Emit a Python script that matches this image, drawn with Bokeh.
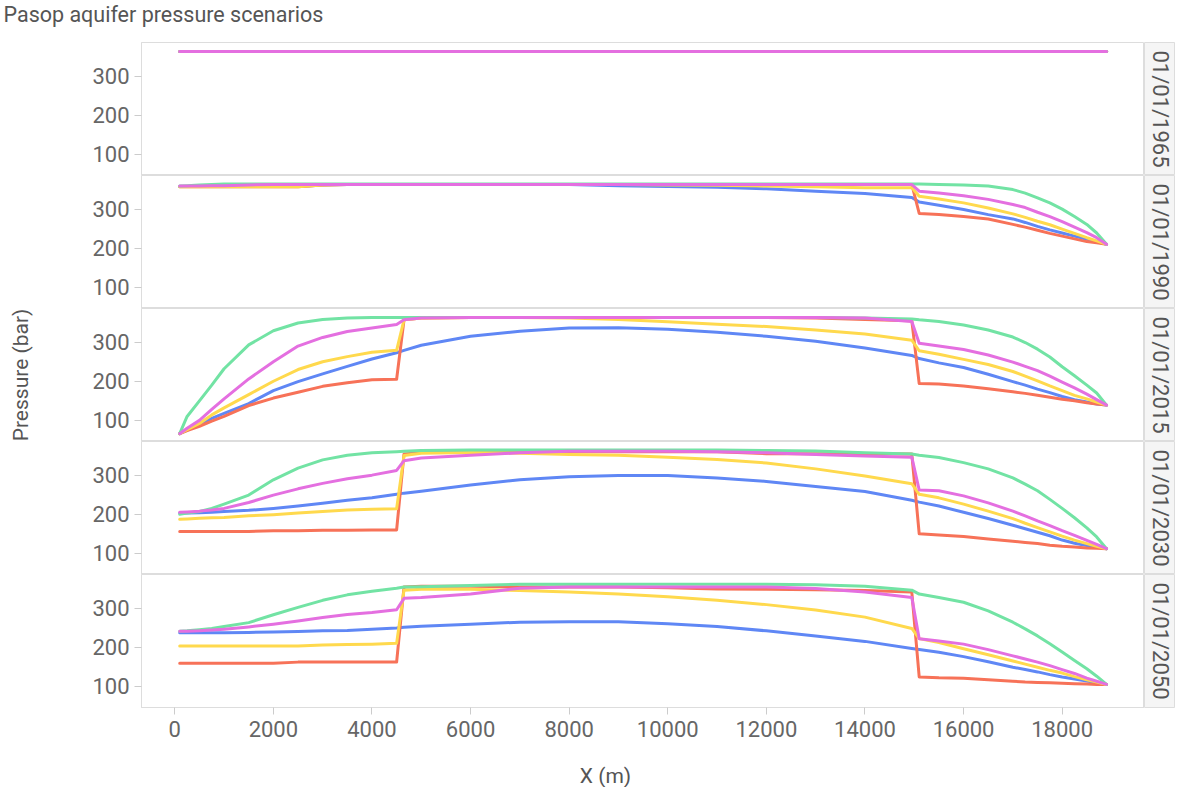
import math

from bokeh.embed import file_html
from bokeh.layouts import column, row
from bokeh.models import FixedTicker, Label, Range1d
from bokeh.plotting import figure
from bokeh.resources import INLINE

# ---------------------------------------------------------------------------
# Data: pressure (bar) along the aquifer section X (m) for five scenarios,
# shown at five dates.
# ---------------------------------------------------------------------------
X_M = [100, 250, 500, 750, 1000,
       1500, 2000, 2500, 3000, 3500, 4000, 4500,
       4650, 5000, 6000, 7000, 8000, 9000, 10000, 11000, 12000, 13000, 14000,
       14950, 15100, 15500, 16000, 16500, 17000,
       17250, 17500, 17750, 18000, 18250, 18500, 18700, 18900]

DATES = ["01/01/1965", "01/01/1990", "01/01/2015", "01/01/2030", "01/01/2050"]

X_TICKS = [0, 2000, 4000, 6000, 8000, 10000, 12000, 14000, 16000, 18000]
Y_TICKS = [100, 200, 300]

P1965 = {
    "blue":    [363, 363, 363, 363, 363, 363, 363, 363, 363, 363, 363, 363, 363,
                363, 363, 363, 363, 363, 363, 363, 363, 363, 363, 363, 363, 363,
                363, 363, 363, 363, 363, 363, 363, 363, 363, 363, 363],
    "red":     [363, 363, 363, 363, 363, 363, 363, 363, 363, 363, 363, 363, 363,
                363, 363, 363, 363, 363, 363, 363, 363, 363, 363, 363, 363, 363,
                363, 363, 363, 363, 363, 363, 363, 363, 363, 363, 363],
    "yellow":  [363, 363, 363, 363, 363, 363, 363, 363, 363, 363, 363, 363, 363,
                363, 363, 363, 363, 363, 363, 363, 363, 363, 363, 363, 363, 363,
                363, 363, 363, 363, 363, 363, 363, 363, 363, 363, 363],
    "green":   [363, 363, 363, 363, 363, 363, 363, 363, 363, 363, 363, 363, 363,
                363, 363, 363, 363, 363, 363, 363, 363, 363, 363, 363, 363, 363,
                363, 363, 363, 363, 363, 363, 363, 363, 363, 363, 363],
    "magenta": [363, 363, 363, 363, 363, 363, 363, 363, 363, 363, 363, 363, 363,
                363, 363, 363, 363, 363, 363, 363, 363, 363, 363, 363, 363, 363,
                363, 363, 363, 363, 363, 363, 363, 363, 363, 363, 363],
}

P1990 = {
    "blue":    [358, 358, 358, 358, 358,
                358, 358, 358, 362, 363, 363, 363,
                363, 363, 363, 363, 363, 360, 358, 356, 352, 346, 340,
                330, 318, 310, 299, 286, 275,
                266, 256, 247, 239, 231, 223, 217, 210],
    "red":     [357, 357, 357, 357, 357,
                357, 357, 357, 362, 363, 363, 363,
                363, 363, 363, 363, 363, 363, 363, 363, 363, 363, 363,
                363, 289, 286, 281, 275, 261,
                254, 246, 238, 231, 224, 217, 214, 210],
    "yellow":  [357, 357, 357, 357, 357,
                357, 357, 357, 362, 363, 363, 363,
                363, 363, 363, 363, 363, 363, 362, 361, 359, 357, 355,
                355, 333, 326, 316, 303, 288,
                279, 269, 260, 249, 238, 227, 219, 210],
    "green":   [359, 360, 362, 363, 364,
                364, 364, 364, 364, 364, 364, 364,
                364, 364, 364, 364, 364, 364, 364, 364, 364, 364, 364,
                364, 364, 363, 362, 359, 350,
                341, 329, 316, 300, 281, 261, 239, 210],
    "magenta": [359, 359, 359, 360, 360,
                362, 363, 363, 363, 363, 363, 363,
                363, 363, 363, 363, 363, 363, 363, 363, 363, 363, 363,
                363, 346, 341, 334, 325, 312,
                304, 292, 281, 268, 254, 240, 227, 210],
}

P2015 = {
    "blue":    [66, 75, 88, 105, 118,
                143, 176, 199, 219, 238, 257, 273,
                279, 292, 315, 328, 336, 337, 333, 325, 315, 302, 285,
                266, 258, 247, 235, 218, 199,
                190, 180, 171, 161, 153, 147, 142, 139],
    "red":     [66, 74, 85, 98, 110,
                138, 157, 172, 187, 196, 204, 205,
                357, 362, 363, 363, 363, 363, 363, 363, 363, 362, 358,
                355, 194, 193, 188, 181, 173,
                169, 164, 159, 154, 150, 145, 142, 139],
    "yellow":  [66, 76, 92, 114, 132,
                166, 200, 230, 250, 263, 274, 279,
                357, 362, 363, 363, 362, 358, 352, 346, 340, 331, 321,
                305, 278, 269, 256, 243, 225,
                213, 201, 188, 176, 164, 155, 147, 139],
    "green":   [66, 110, 150, 190, 232,
                293, 329, 349, 358, 362, 363, 363,
                363, 363, 363, 363, 363, 363, 363, 363, 363, 363, 362,
                359, 357, 353, 344, 331, 313,
                299, 282, 262, 237, 214, 190, 170, 139],
    "magenta": [66, 80, 100, 128, 155,
                206, 250, 290, 312, 327, 336, 345,
                357, 362, 363, 363, 363, 363, 363, 363, 363, 363, 362,
                353, 297, 290, 281, 267, 249,
                238, 227, 213, 198, 183, 167, 153, 139],
}

P2030 = {
    "blue":    [203, 203, 204, 205, 207,
                210, 215, 221, 228, 236, 242, 251,
                254, 259, 275, 288, 296, 299, 299, 293, 284, 271, 258,
                236, 231, 221, 205, 189, 172,
                163, 154, 145, 134, 126, 120, 116, 112],
    "red":     [156, 156, 156, 156, 156,
                156, 158, 158, 159, 159, 160, 160,
                354, 358, 360, 360, 360, 360, 360, 360, 355, 355, 355,
                354, 150, 147, 143, 137, 131,
                128, 125, 121, 118, 116, 114, 113, 112],
    "yellow":  [187, 188, 190, 191, 192,
                196, 199, 203, 207, 211, 213, 214,
                350, 356, 358, 356, 353, 351, 346, 340, 331, 316, 298,
                278, 251, 242, 226, 208, 189,
                177, 166, 155, 144, 134, 125, 118, 112],
    "green":   [200, 203, 207, 215, 226,
                249, 288, 318, 339, 351, 357, 360,
                361, 363, 364, 364, 364, 364, 364, 364, 363, 362, 357,
                354, 351, 345, 332, 316, 293,
                277, 260, 238, 215, 191, 165, 142, 112],
    "magenta": [205, 206, 208, 211, 215,
                230, 249, 265, 279, 291, 300, 312,
                337, 344, 351, 357, 361, 361, 361, 360, 357, 353, 349,
                346, 262, 260, 247, 229, 208,
                196, 183, 171, 158, 146, 133, 123, 112],
}

P2050 = {
    "blue":    [237, 237, 237, 237, 237,
                238, 239, 240, 242, 243, 246, 249,
                251, 254, 259, 264, 265, 265, 260, 253, 242, 229, 215,
                197, 194, 187, 176, 163, 149,
                143, 137, 130, 124, 119, 114, 110, 105],
    "red":     [159, 159, 159, 159, 159,
                159, 159, 162, 162, 162, 162, 162,
                354, 356, 356, 354, 354, 354, 352, 349, 348, 347, 345,
                341, 124, 122, 121, 117, 113,
                111, 110, 109, 108, 107, 106, 105, 105],
    "yellow":  [203, 203, 203, 203, 203,
                203, 203, 203, 206, 207, 208, 210,
                346, 348, 348, 345, 341, 336, 329, 320, 309, 295, 277,
                248, 222, 212, 196, 181, 165,
                157, 149, 141, 134, 125, 117, 111, 105],
    "green":   [241, 242, 245, 248, 253,
                263, 283, 302, 320, 334, 343, 351,
                354, 355, 358, 361, 361, 361, 361, 361, 361, 360, 356,
                346, 336, 327, 315, 293, 264,
                247, 229, 209, 188, 166, 145, 126, 105],
    "magenta": [241, 241, 242, 244, 246,
                252, 259, 267, 276, 284, 289, 296,
                325, 327, 336, 351, 354, 354, 354, 354, 354, 350, 341,
                327, 222, 216, 208, 194, 178,
                170, 162, 153, 143, 133, 121, 113, 105],
}

PANELS = [P1965, P1990, P2015, P2030, P2050]

# drawing order: later series sit on top
SERIES_ORDER = ["blue", "red", "yellow", "green", "magenta"]
COLORS = {
    "blue": "#5f87f5",
    "red": "#f77258",
    "yellow": "#ffd94d",
    "green": "#72e3a4",
    "magenta": "#e46fe0",
}

# ---------------------------------------------------------------------------
# Styling / layout constants
# ---------------------------------------------------------------------------
FONT = "Roboto"
LABEL_COLOR = "#666666"
TITLE_COLOR = "#555555"
RULE_COLOR = "#dddddd"
TICK_COLOR = "#cccccc"
STRIP_FILL = "#f5f5f5"

PAGE_W = 1180
TOP_H = 42
LEFT_W = 141
FRAME_W = 1003
STRIP_W = 31
PANEL_H = 133
AXIS_H = 50
BOTTOM_H = 787 - TOP_H - 5 * PANEL_H - AXIS_H

x_range = Range1d(-675, 19670)


def text_strip(width, height):
    """Blank figure whose data space equals its pixel space (y downwards)."""
    f = figure(width=width, height=height, x_range=Range1d(0, width),
               y_range=Range1d(height, 0), toolbar_location=None,
               output_backend="svg", x_axis_location=None, y_axis_location=None,
               min_border_left=0, min_border_right=0, min_border_top=0,
               min_border_bottom=0, outline_line_color=None)
    f.grid.grid_line_color = None
    return f


def panel(k, data, last):
    height = PANEL_H + (AXIS_H if last else 0)
    p = figure(width=LEFT_W + FRAME_W, height=height, x_range=x_range,
               y_range=Range1d(46, 386), toolbar_location=None,
               output_backend="svg",
               x_axis_location="below" if last else None,
               min_border_left=LEFT_W, min_border_right=0, min_border_top=0,
               min_border_bottom=AXIS_H if last else 0,
               outline_line_color=RULE_COLOR, outline_line_width=1,
               background_fill_color="white", border_fill_color="white")
    p.grid.grid_line_color = None

    ya = p.yaxis[0]
    ya.ticker = FixedTicker(ticks=Y_TICKS)
    ya.major_label_text_font = FONT
    ya.major_label_text_font_size = "22px"
    ya.major_label_text_color = LABEL_COLOR
    ya.major_label_standoff = 5
    ya.major_tick_line_color = TICK_COLOR
    ya.major_tick_out = 7
    ya.major_tick_in = 0
    ya.minor_tick_line_color = None
    ya.axis_line_color = RULE_COLOR
    if k == 2:
        ya.axis_label = "Pressure (bar)"
        ya.axis_label_text_font = FONT
        ya.axis_label_text_font_size = "21px"
        ya.axis_label_text_font_style = "normal"
        ya.axis_label_text_color = TITLE_COLOR
        ya.axis_label_standoff = 56

    if last:
        xa = p.xaxis[0]
        xa.ticker = FixedTicker(ticks=X_TICKS)
        xa.major_label_text_font = FONT
        xa.major_label_text_font_size = "22px"
        xa.major_label_text_color = LABEL_COLOR
        xa.major_label_standoff = 6
        xa.major_tick_line_color = TICK_COLOR
        xa.major_tick_out = 7
        xa.major_tick_in = 0
        xa.minor_tick_line_color = None
        xa.axis_line_color = RULE_COLOR

    for name in SERIES_ORDER:
        p.line(X_M, data[name], line_color=COLORS[name], line_width=3,
               line_join="round", line_cap="round")
    return p


def strip(date, last):
    height = PANEL_H + (AXIS_H if last else 0)
    s = figure(width=STRIP_W, height=height, x_range=Range1d(0, 1),
               y_range=Range1d(0, 1), toolbar_location=None,
               output_backend="svg", x_axis_location=None, y_axis_location=None,
               min_border_left=0, min_border_right=0, min_border_top=0,
               min_border_bottom=AXIS_H if last else 0,
               outline_line_color=RULE_COLOR, background_fill_color=STRIP_FILL,
               border_fill_color="white")
    s.grid.grid_line_color = None
    s.add_layout(Label(x=0.5, y=0.5, text=date, angle=-math.pi / 2,
                       text_align="center", text_baseline="middle",
                       text_font=FONT, text_font_size="22px",
                       text_color=TITLE_COLOR))
    return s


title_fig = text_strip(PAGE_W, TOP_H)
title_fig.add_layout(Label(x=3, y=14, text="Pasop aquifer pressure scenarios",
                           text_font=FONT, text_font_size="21.5px",
                           text_color=TITLE_COLOR, text_baseline="alphabetic"))

rows = [title_fig]
for k, (date, data) in enumerate(zip(DATES, PANELS)):
    last = k == len(DATES) - 1
    rows.append(row(panel(k, data, last), strip(date, last), spacing=0))

xlabel_fig = text_strip(PAGE_W, BOTTOM_H)
xlabel_fig.add_layout(Label(x=605, y=18, text="X (m)", text_font=FONT,
                            text_font_size="21px", text_color=TITLE_COLOR,
                            text_align="center", text_baseline="middle"))
rows.append(xlabel_fig)

page = column(*rows, spacing=0)

with open("out.html", "w") as fh:
    fh.write(file_html(page, INLINE, title="Pasop aquifer pressure scenarios"))
